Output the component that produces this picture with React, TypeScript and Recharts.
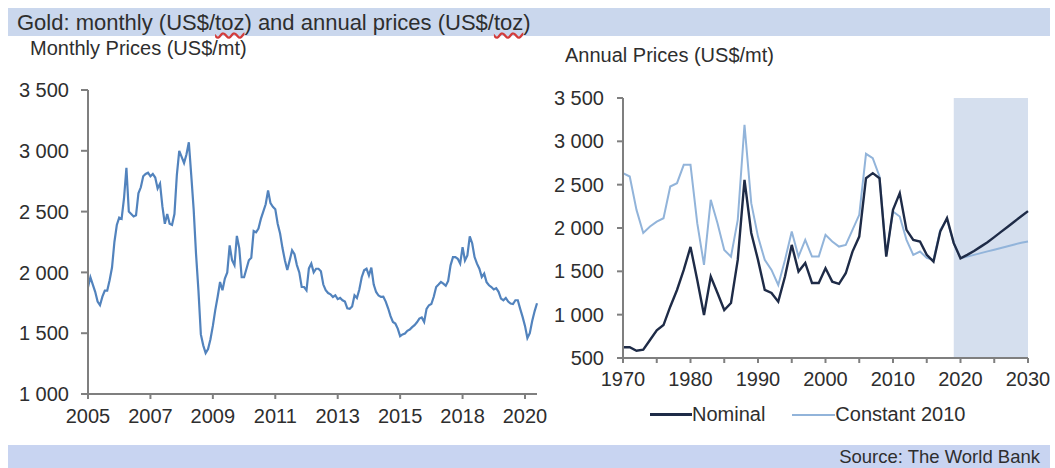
import { LineChart, Line, XAxis, YAxis, ReferenceArea, Legend } from "recharts";

const FONT = '"Liberation Sans", Arial, sans-serif';

// Monthly prices, Jan 2005 .. Aug 2020 (US$/mt)
const monthlyPrices = [
  1877, 1960, 1900, 1840, 1760, 1730, 1800, 1850, 1850, 1935, 2040, 2250, // 2005
  2390, 2450, 2440, 2610, 2860, 2500, 2480, 2460, 2470, 2650, 2700, 2790, // 2006
  2810, 2820, 2790, 2810, 2780, 2690, 2730, 2540, 2400, 2480, 2400, 2390, // 2007
  2480, 2800, 3000, 2950, 2900, 2970, 3070, 2800, 2520, 2150, 1850, 1490, // 2008
  1400, 1336, 1370, 1450, 1560, 1690, 1800, 1921, 1853, 1950, 2000, 2222, // 2009
  2100, 2060, 2300, 2200, 1960, 1960, 2030, 2100, 2120, 2340, 2330, 2360, // 2010
  2440, 2500, 2560, 2673, 2570, 2540, 2520, 2400, 2320, 2200, 2100, 2020, // 2011
  2099, 2181, 2150, 2060, 2000, 1880, 1880, 1853, 2033, 2072, 2000, 2030, // 2012
  2030, 2010, 1900, 1853, 1830, 1820, 1798, 1812, 1780, 1790, 1771, 1760, // 2013
  1705, 1700, 1720, 1812, 1790, 1860, 1960, 2017, 2030, 1975, 2040, 1900, // 2014
  1839, 1810, 1798, 1800, 1760, 1705, 1640, 1593, 1580, 1538, 1476, 1490, // 2015
  1497, 1520, 1530, 1550, 1566, 1590, 1620, 1630, 1593, 1700, 1730, 1740, // 2016
  1800, 1880, 1900, 1921, 1908, 1890, 1930, 2058, 2126, 2126, 2112, 2072, // 2017
  2208, 2099, 2140, 2296, 2240, 2126, 2072, 2030, 1962, 1990, 1920, 1894, // 2018
  1880, 1860, 1870, 1840, 1785, 1771, 1790, 1760, 1744, 1740, 1771, 1771, // 2019
  1700, 1634, 1560, 1460, 1500, 1600, 1680, 1746, // 2020
];

const monthlyTicks = [0, 26, 52, 78, 104, 130, 156, 182];
const monthlyTickLabels = ["2005", "2007", "2009", "2011", "2013", "2015", "2018", "2020"];

// Annual prices 1970 .. 2030 (US$/mt)
const annualYears = Array.from({ length: 61 }, (_, k) => 1970 + k);
const nominalPrices = [
  624, 624, 584, 597, 708, 820, 880, 1092, 1285, 1516, // 1970s
  1782, 1400, 997, 1440, 1250, 1054, 1135, 1632, 2556, 1943, // 1980s
  1632, 1285, 1250, 1150, 1440, 1805, 1497, 1597, 1366, 1366, // 1990s
  1536, 1381, 1355, 1478, 1728, 1901, 2575, 2633, 2575, 1670, // 2000s
  2209, 2402, 1978, 1863, 1844, 1690, 1612, 1959, 2113, 1825, // 2010s
  1651, 1690, 1735, 1785, 1835, 1895, 1955, 2015, 2075, 2135, 2195, // 2020s
];
const constantPrices = [
  2633, 2594, 2209, 1943, 2017, 2074, 2113, 2479, 2517, 2729,
  2729, 2055, 1574, 2325, 2055, 1747, 1670, 2094, 3191, 2287,
  1901, 1632, 1516, 1343, 1632, 1959, 1670, 1863, 1670, 1670,
  1921, 1844, 1786, 1805, 1978, 2152, 2856, 2806, 2594, 1690,
  2190, 2132, 1863, 1690, 1728, 1655, 1632, 1978, 2100, 1825,
  1651, 1670, 1690, 1710, 1730, 1750, 1770, 1790, 1810, 1830, 1845,
];
const annualTicks = [1970, 1975, 1980, 1985, 1990, 1995, 2000, 2005, 2010, 2015, 2020, 2025, 2030];
const forecastStart = 2019;
const forecastEnd = 2030;

const monthlyYTicks = [1000, 1500, 2000, 2500, 3000, 3500];
const annualYTicks = [500, 1000, 1500, 2000, 2500, 3000, 3500];

const monthlyData = monthlyPrices.map((price, i) => ({ i, price }));
const annualData = annualYears.map((year, k) => ({
  year,
  nominal: nominalPrices[k],
  constant: constantPrices[k],
}));

const fmt = (v: number) =>
  v >= 1000 ? `${Math.floor(v / 1000)} ${String(v % 1000).padStart(3, "0")}` : String(v);

const AXIS = "#7f7f7f";
const TEXT = "#2e2e2e";
const tickStyle = { fontSize: 20, fill: TEXT, fontFamily: FONT };

const LegendContent = () => (
  <div style={{ display: "flex", alignItems: "center", fontFamily: FONT, fontSize: 20, color: TEXT }}>
    <span style={{ display: "inline-block", width: 42, height: 2.5, background: "#1e2b47" }} />
    <span style={{ marginRight: 27 }}>Nominal</span>
    <span style={{ display: "inline-block", width: 43, height: 2, background: "#92b4da" }} />
    <span>Constant 2010</span>
  </div>
);

const squiggle = {
  textDecorationLine: "underline",
  textDecorationStyle: "wavy",
  textDecorationColor: "#d23c3c",
} as const;

export default function App() {
  return (
    <div
      style={{
        position: "absolute",
        left: 0,
        top: 0,
        width: 1055,
        height: 468,
        background: "#fff",
        overflow: "hidden",
        fontFamily: FONT,
        color: TEXT,
      }}
    >
      {/* header and footer bands */}
      <div style={{ position: "absolute", left: 8, top: 8, width: 1042, height: 28, background: "#cad7ed" }} />
      <div style={{ position: "absolute", left: 8, top: 445, width: 1042, height: 23, background: "#c8d4f1" }} />

      <div style={{ position: "absolute", left: 17, top: 12, fontSize: 22, lineHeight: "21px", whiteSpace: "nowrap" }}>
        Gold: monthly (US$/<span style={squiggle}>toz</span>) and annual prices (US$/<span style={squiggle}>toz</span>)
      </div>
      <div style={{ position: "absolute", left: 30, top: 38, fontSize: 20, lineHeight: "20px", whiteSpace: "nowrap" }}>
        Monthly Prices (US$/mt)
      </div>
      <div style={{ position: "absolute", left: 565, top: 45, fontSize: 20, lineHeight: "20px", whiteSpace: "nowrap" }}>
        Annual Prices (US$/mt)
      </div>
      <div
        style={{ position: "absolute", right: 15, top: 447, fontSize: 18.5, lineHeight: "19px", whiteSpace: "nowrap" }}
      >
        Source: The World Bank
      </div>

      {/* monthly chart */}
      <div style={{ position: "absolute", left: 0, top: 0 }}>
        <LineChart width={560} height={440} data={monthlyData} margin={{ top: 90, right: 23, bottom: 16, left: 28 }}>
          <XAxis
            dataKey="i"
            type="number"
            domain={[0, 187]}
            ticks={monthlyTicks}
            tickFormatter={(v: number) => monthlyTickLabels[monthlyTicks.indexOf(v)] ?? ""}
            height={30}
            stroke={AXIS}
            strokeWidth={2}
            tickSize={5}
            tickMargin={10}
            tick={tickStyle}
            interval={0}
          />
          <YAxis
            domain={[1000, 3500]}
            ticks={monthlyYTicks}
            tickFormatter={fmt}
            width={60}
            stroke={AXIS}
            strokeWidth={2}
            tickSize={7}
            tickMargin={12}
            tick={tickStyle}
            interval={0}
          />
          <Line
            type="linear"
            dataKey="price"
            stroke="#5283bd"
            strokeWidth={2.2}
            dot={false}
            isAnimationActive={false}
          />
        </LineChart>
      </div>

      {/* annual chart */}
      <div style={{ position: "absolute", left: 540, top: 0 }}>
        <LineChart width={515} height={440} data={annualData} margin={{ top: 98, right: 27, bottom: 52, left: 23 }}>
          <ReferenceArea
            x1={forecastStart}
            x2={forecastEnd}
            y1={500}
            y2={3500}
            fill="#d5dfee"
            fillOpacity={1}
            stroke="none"
            ifOverflow="visible"
          />
          <XAxis
            dataKey="year"
            type="number"
            domain={[1970, 2030]}
            ticks={annualTicks}
            tickFormatter={(v: number) => (v % 10 === 0 ? String(v) : "")}
            height={30}
            stroke={AXIS}
            strokeWidth={2}
            tickSize={5}
            tickMargin={9}
            tick={tickStyle}
            interval={0}
          />
          <YAxis
            domain={[500, 3500]}
            ticks={annualYTicks}
            tickFormatter={fmt}
            width={60}
            stroke={AXIS}
            strokeWidth={2}
            tickSize={6}
            tickMargin={13}
            tick={tickStyle}
            interval={0}
          />
          <Legend
            layout="horizontal"
            verticalAlign="middle"
            align="center"
            content={<LegendContent />}
            wrapperStyle={{ top: 403, left: 110, width: 400 }}
          />
          <Line
            type="linear"
            dataKey="constant"
            name="Constant 2010"
            stroke="#92b4da"
            strokeWidth={2}
            dot={false}
            isAnimationActive={false}
          />
          <Line
            type="linear"
            dataKey="nominal"
            name="Nominal"
            stroke="#1e2b47"
            strokeWidth={2.4}
            dot={false}
            isAnimationActive={false}
          />
        </LineChart>
      </div>
    </div>
  );
}
